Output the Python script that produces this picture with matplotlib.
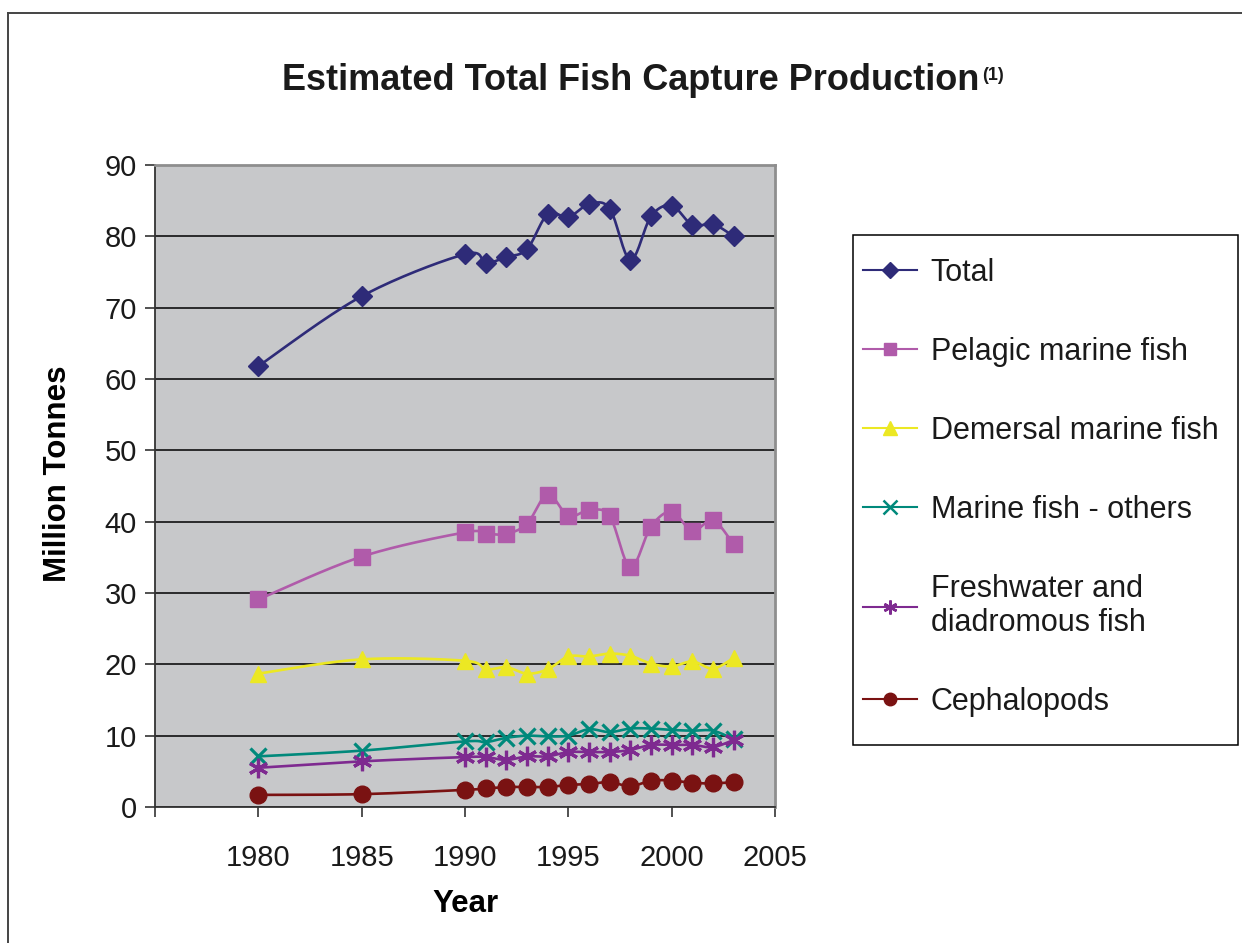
import numpy as np
import matplotlib
matplotlib.use("Agg")
import matplotlib.pyplot as plt
from matplotlib.lines import Line2D
from matplotlib.patches import Rectangle

plt.rcParams['font.family'] = ['Liberation Sans', 'DejaVu Sans']

# data (million tonnes)
years = [1980, 1985, 1990, 1991, 1992, 1993, 1994, 1995, 1996, 1997,
         1998, 1999, 2000, 2001, 2002, 2003]
total = [61.8, 71.6, 77.5, 76.3, 77.1, 78.2, 83.1, 82.7, 84.5, 83.9,
         76.7, 82.8, 84.3, 81.6, 81.7, 80.0]
pelagic = [29.1, 35.1, 38.5, 38.3, 38.3, 39.7, 43.8, 40.8, 41.6, 40.8,
           33.6, 39.3, 41.4, 38.7, 40.2, 36.8]
demersal = [18.7, 20.7, 20.5, 19.3, 19.6, 18.7, 19.3, 21.1, 21.1, 21.5,
            21.2, 20.1, 19.7, 20.4, 19.4, 20.9]
marine_other = [7.1, 7.9, 9.2, 9.1, 9.7, 10.0, 9.9, 10.0, 10.9, 10.5,
                11.0, 11.0, 10.8, 10.7, 10.7, 9.5]
freshwater = [5.5, 6.4, 7.0, 7.0, 6.6, 7.1, 7.1, 7.7, 7.7, 7.7,
              8.0, 8.7, 8.7, 8.7, 8.4, 9.4]
cephalopods = [1.7, 1.8, 2.4, 2.6, 2.8, 2.8, 2.8, 3.1, 3.2, 3.5,
               2.9, 3.7, 3.7, 3.4, 3.3, 3.5]

labels = ['Total', 'Pelagic marine fish', 'Demersal marine fish',
          'Marine fish - others', 'Freshwater and\ndiadromous fish', 'Cephalopods']
series = [total, pelagic, demersal, marine_other, freshwater, cephalopods]
colors = ['#2E2B78', '#B05BAA', '#ECE823', '#00897B', '#7E2A90', '#7A1212']
markers = ['D', 's', '^', 'x', (6, 2, 0), 'o']
msizes = [10, 11, 12, 12, 14, 12]
leg_ms = [8, 9, 10, 10, 10, 9]


def smooth(x, y, n=20):
    # Excel-style smoothed line: cubic bezier through the points
    p = np.column_stack([x, y]).astype(float)
    out = [p[0]]
    t = np.linspace(0, 1, n)[1:, None]
    for i in range(len(p) - 1):
        p0 = p[i - 1] if i > 0 else p[i]
        p1, p2 = p[i], p[i + 1]
        p3 = p[i + 2] if i + 2 < len(p) else p[i + 1]
        c1 = p1 + (p2 - p0) / 6
        c2 = p2 - (p3 - p1) / 6
        seg = ((1 - t) ** 3) * p1 + 3 * ((1 - t) ** 2) * t * c1 + 3 * (1 - t) * t ** 2 * c2 + t ** 3 * p2
        out.extend(seg)
    out = np.array(out)
    return out[:, 0], out[:, 1]


fig = plt.figure(figsize=(12.42, 9.43), dpi=100)
W, H = 1242, 943
ax = fig.add_axes([155 / W, 1 - 807 / H, 620 / W, 642 / H])
ax.set_facecolor('#C7C8CA')

handles = []
for vals, lab, c, m, ms, lms in zip(series, labels, colors, markers, msizes, leg_ms):
    sx, sy = smooth(years, vals)
    ax.plot(sx, sy, color=c, lw=1.9, zorder=3)
    mew = 2.3 if m in ('x', (6, 2, 0)) else 1
    ax.plot(years, vals, ls='none', marker=m, ms=ms, color=c, mec=c, mew=mew, zorder=4)
    handles.append(Line2D([], [], color=c, lw=1.5, marker=m, ms=lms, mec=c,
                          mew=1.8 if mew > 1 else 1, label=lab))

ax.set_xlim(1975, 2005)
ax.set_ylim(0, 90)
ax.set_xticks([1975, 1980, 1985, 1990, 1995, 2000, 2005])
ax.set_xticklabels(['', '1980', '1985', '1990', '1995', '2000', '2005'])
ax.set_yticks(range(0, 91, 10))
ax.tick_params(axis='both', labelsize=21, direction='out', length=7, width=1.2,
               color='#333333', labelcolor='#1a1a1a')
ax.tick_params(axis='x', pad=20)
ax.tick_params(axis='y', pad=6)
ax.grid(axis='y', color='black', lw=1.1)
ax.set_axisbelow(True)
for side in ['top', 'right']:
    ax.spines[side].set_color('#8E8E8E')
    ax.spines[side].set_linewidth(2)
for side in ['left', 'bottom']:
    ax.spines[side].set_color('#333333')
    ax.spines[side].set_linewidth(1.3)

ax.set_ylabel('Million Tonnes', fontsize=22.5, fontweight='bold', va='center')
ax.yaxis.set_label_coords((58 - 155) / 620, (807 - 474) / 642)
ax.set_xlabel('Year', fontsize=22.5, fontweight='bold', labelpad=12)

# legend without its own frame; box drawn separately
fs = 22
leg = fig.legend(handles=handles, loc='upper left',
                 bbox_to_anchor=(863 / W, 1 - 258 / H), fontsize=fs,
                 frameon=False, handlelength=1.76, handletextpad=0.46,
                 labelspacing=1.6, borderpad=0, borderaxespad=0)
for t in leg.get_texts():
    t.set_color('#1a1a1a')
fig.add_artist(Rectangle((853 / W, 1 - 745 / H), 385 / W, 510 / H, transform=fig.transFigure,
                         fill=False, edgecolor='black', lw=1.1))

# title with superscript note marker
title = fig.text(282 / W, 1 - 81 / H, 'Estimated Total Fish Capture Production',
                 fontsize=26, fontweight='bold', va='center', ha='left', color='#1a1a1a')
fig.canvas.draw()
bb = title.get_window_extent()
fig.text(bb.x1 / W + 0.002, 1 - 67 / H, '(1)', fontsize=13, fontweight='bold',
         va='top', ha='left', color='#1a1a1a')

# outer chart border (cropped at right and bottom)
fig.add_artist(Line2D([8 / W, 1], [1 - 13 / H, 1 - 13 / H], color='#444444', lw=1.4))
fig.add_artist(Line2D([8 / W, 8 / W], [0, 1 - 13 / H], color='#444444', lw=1.4))

fig.savefig('out.png', dpi=100)
